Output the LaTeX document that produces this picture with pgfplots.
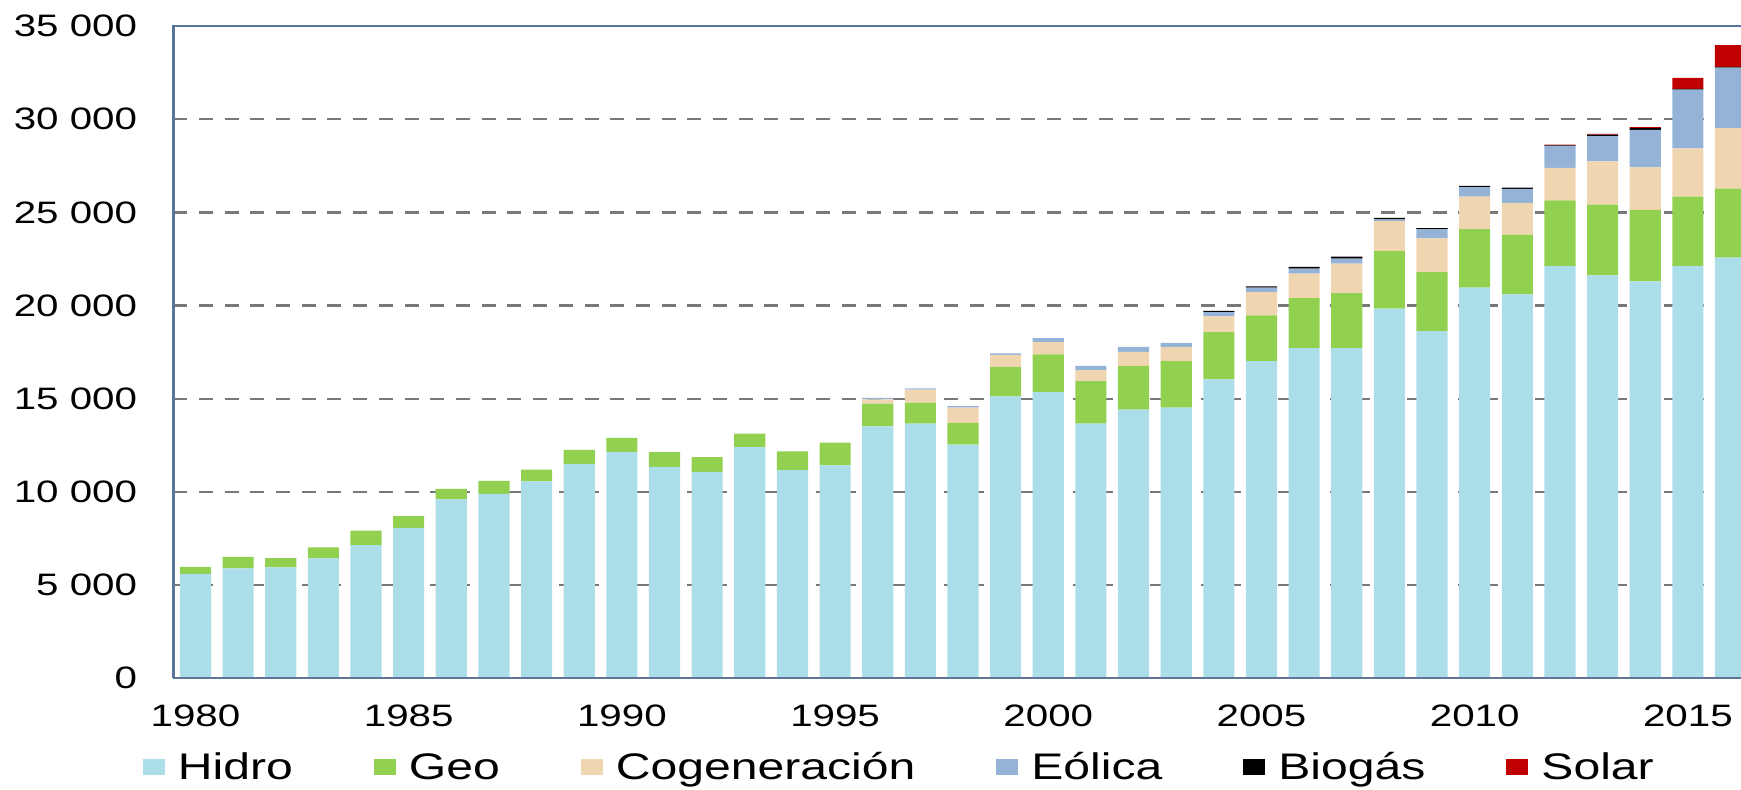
\documentclass[border=0pt]{standalone}
\usepackage{fontspec}
\setmainfont{Liberation Sans}[FakeStretch=1.3]
\usepackage{pgfplots}
\usepackage{pgfplotstable}
\pgfplotsset{compat=1.18}

\definecolor{hidro}{RGB}{172,222,234}
\definecolor{geo}{RGB}{146,208,80}
\definecolor{cog}{RGB}{240,214,176}
\definecolor{eol}{RGB}{149,179,215}
\definecolor{bio}{RGB}{0,0,0}
\definecolor{sol}{RGB}{192,0,0}
\definecolor{axiscol}{RGB}{90,115,155}
\definecolor{gridcol}{RGB}{120,120,120}

\pgfplotsset{mylegend/.style={legend image code/.code={%
  \fill[##1] (0pt,-7.8pt) rectangle (22pt,7.8pt); \path (35pt,0pt);}}}

\pgfplotstableread{
year hidro geo cog eol bio sol
1980 5600 380 0 0 0 0
1981 5900 620 0 0 0 0
1982 5950 500 0 0 0 0
1983 6430 590 0 0 0 0
1984 7150 780 0 0 0 0
1985 8070 630 0 0 0 0
1986 9600 560 0 0 0 0
1987 9900 690 0 0 0 0
1988 10570 630 0 0 0 0
1989 11500 760 0 0 0 0
1990 12150 750 0 0 0 0
1991 11340 790 0 0 0 0
1992 11070 800 0 0 0 0
1993 12410 720 0 0 0 0
1994 11170 1000 0 0 0 0
1995 11430 1220 0 0 0 0
1996 13520 1220 230 70 0 0
1997 13670 1120 700 70 0 0
1998 12540 1160 830 70 0 0
1999 15130 1570 660 70 0 0
2000 15360 2020 660 210 0 0
2001 13670 2270 590 230 0 0
2002 14420 2340 750 270 0 0
2003 14520 2500 750 230 0 0
2004 16040 2540 840 230 60 0
2005 17020 2450 1250 240 70 0
2006 17720 2680 1310 270 90 0
2007 17720 2950 1580 270 100 0
2008 19830 3090 1610 90 90 0
2009 18630 3160 1820 480 60 0
2010 20960 3140 1750 500 75 0
2011 20600 3210 1680 770 70 0
2012 22120 3520 1750 1180 30 40
2013 21620 3800 2320 1345 80 50
2014 21300 3840 2280 2010 90 50
2015 22120 3730 2590 3150 30 590
2016 22570 3700 3250 3250 30 1180
}\energy

\begin{document}
\begin{tikzpicture}
\begin{axis}[
  name=ax,
  at={(0pt,0pt)}, anchor=south west,
  scale only axis, width=1567.7pt, height=652.3pt,
  ybar stacked, bar width=0.73,
  xmin=1979.48, xmax=2016.245,
  ymin=0, ymax=35000,
  enlargelimits=false,
  scaled y ticks=false, scaled x ticks=false,
  axis line style={draw=none},
  major tick length=0pt,
  ytick={0,5000,10000,15000,20000,25000,30000,35000},
  yticklabels={0,5 000,10 000,15 000,20 000,25 000,30 000,35 000},
  xtick={1980,1985,1990,1995,2000,2005,2010,2015},
  xticklabels={1980,1985,1990,1995,2000,2005,2010,2015},
  /pgf/number format/assume math mode=true,
  yticklabel style={font=\fontsize{31}{36}\selectfont, anchor=east, inner sep=0pt, xshift=-36pt},
  xticklabel style={font=\fontsize{31}{36}\selectfont, anchor=north, inner sep=0pt, yshift=-26.7pt},
  ymajorgrids,
  grid style={gridcol, line width=2.3pt, dash pattern=on 14pt off 11.7pt},
  legend columns=6,
  legend cell align=left,
  legend style={draw=none, fill=none, inner sep=0pt, outer sep=0pt,
    at={(axis description cs:0,0)}, anchor=west, xshift=-30.3pt, yshift=-88.7pt,
    font=\fontsize{37}{44}\selectfont,
    nodes={inner sep=0pt},
    /tikz/every even column/.append style={column sep=81pt}},
]
\addplot[fill=hidro, draw=none, mylegend] table[x=year,y=hidro]{\energy};
\addplot[fill=geo, draw=none, mylegend] table[x=year,y=geo]{\energy};
\addplot[fill=cog, draw=none, mylegend] table[x=year,y=cog]{\energy};
\addplot[fill=eol, draw=none, mylegend] table[x=year,y=eol]{\energy};
\addplot[fill=bio, draw=none, mylegend] table[x=year,y=bio]{\energy};
\addplot[fill=sol, draw=none, mylegend] table[x=year,y=sol]{\energy};
\legend{Hidro,Geo,Cogeneración,Eólica,Biogás,Solar}
\end{axis}
\draw[axiscol, line width=2.6pt] (ax.north east) -- (ax.north west) -- (ax.south west);
\draw[axiscol!80!gray, line width=2.4pt] (ax.south west) -- (ax.south east);
\pgfresetboundingbox
\path[use as bounding box] (-173.3pt,-111.7pt) rectangle (1567.7pt,678.3pt);
\end{tikzpicture}
\end{document}
